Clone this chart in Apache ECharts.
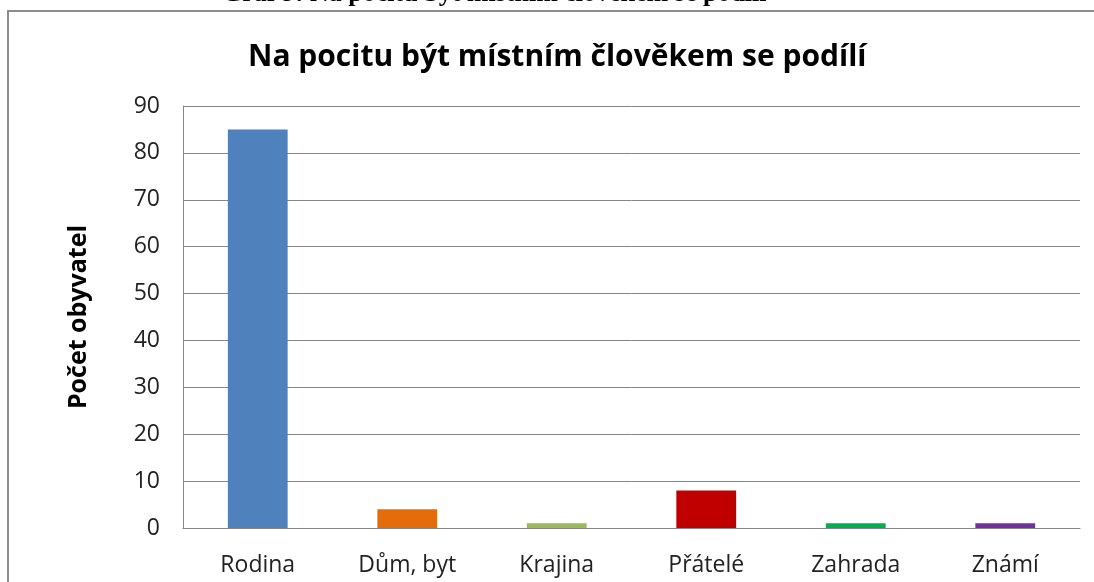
<!DOCTYPE html>
<html lang="cs">
<head>
	<meta charset="UTF-8">
	<title>Graf 9</title>
	<style type="text/css">
	body,html{
		width: 100%;
		height: 100%;
		margin: 0;
		padding: 0;
		background: #fff;
	}
	#chart{
		width: 1094px;
		height: 582px;
	}
	</style>
</head>
<body>
<div id="chart"></div>
<script type="text/javascript" src="https://cdn.jsdelivr.net/npm/echarts@6/dist/echarts.min.js"></script>
<script type="text/javascript">
	// data
	var categories = ['Rodina', 'Dům, byt', 'Krajina', 'Přátelé', 'Zahrada', 'Známí'];
	var values = [85, 4, 1, 8, 1, 1];
	var barColors = ['#4f81bd', '#e46c0a', '#9bbb59', '#c00000', '#00b050', '#7030a0'];

	var chart = echarts.init(document.getElementById('chart'), null, {renderer: 'canvas'});
	var font = '"Open Sans", "Noto Sans", sans-serif';

	var option = {
		animation: false,
		title: {
			text: 'Na pocitu být místním člověkem se podílí',
			left: 243,
			top: 37,
			textStyle: {
				fontFamily: font,
				fontWeight: 'bold',
				fontSize: 30,
				color: '#000'
			}
		},
		graphic: [{
			// outer chart frame
			type: 'rect',
			shape: {x: 8, y: 11, width: 1200, height: 700},
			style: {fill: 'none', stroke: '#8c8c8c', lineWidth: 2}
		}, {
			// caption above the frame, cut by the page edge
			type: 'text',
			left: 222,
			top: -19,
			style: {
				text: 'Graf 9: Na pocitu být místním člověkem se podílí',
				font: 'bold 26px "Liberation Serif", serif',
				fill: '#000'
			}
		}],
		grid: {
			left: 183,
			right: 14,
			top: 106,
			bottom: 54
		},
		xAxis: {
			type: 'category',
			data: categories,
			axisTick: {show: false},
			axisLine: {lineStyle: {color: '#868686', width: 1}},
			axisLabel: {
				margin: 26,
				fontFamily: font,
				fontSize: 23,
				color: '#222'
			}
		},
		yAxis: {
			type: 'value',
			min: 0,
			max: 90,
			interval: 10,
			name: 'Počet obyvatel',
			nameLocation: 'middle',
			nameGap: 92,
			nameTextStyle: {
				fontFamily: font,
				fontWeight: 'bold',
				fontSize: 25,
				color: '#000'
			},
			axisLine: {show: true, lineStyle: {color: '#868686', width: 1}},
			axisTick: {show: false},
			splitLine: {lineStyle: {color: '#868686', width: 1}},
			axisLabel: {
				margin: 23,
				fontFamily: font,
				fontSize: 23,
				color: '#222'
			}
		},
		series: [{
			type: 'bar',
			barWidth: '40%',
			data: values.map(function (v, i) {
				return {value: v, itemStyle: {color: barColors[i]}};
			})
		}]
	};

	chart.setOption(option);
	window.addEventListener('resize', function () {
		chart.resize();
	});
</script>
</body>
</html>
